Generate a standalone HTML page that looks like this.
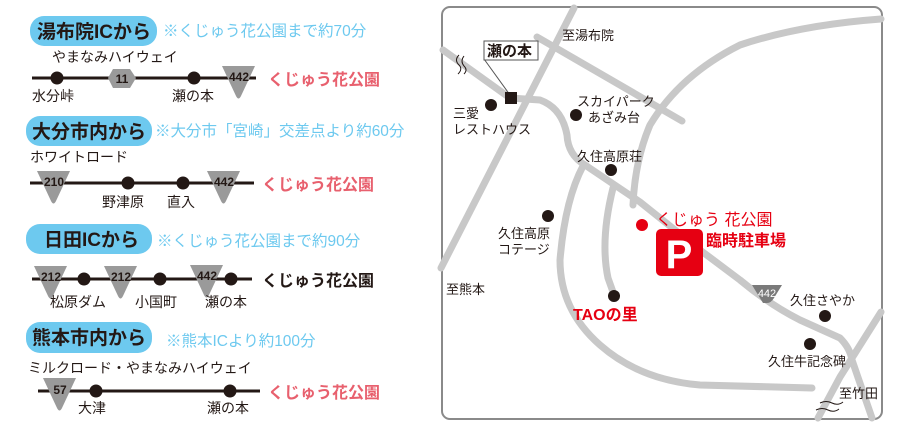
<!DOCTYPE html>
<html><head><meta charset="utf-8"><style>
body{margin:0;background:#fff;}
svg{display:block;font-family:"Liberation Sans","Noto Sans CJK JP",sans-serif;}
</style></head><body>
<svg width="900" height="432" viewBox="0 0 900 432" xmlns="http://www.w3.org/2000/svg">
<defs>
<g id="tri"><path d="M0,0 H33 L19,30 Q16.5,35 14,30 Z" fill="#9a9a9a"/></g>
</defs>
<g font-size="14" fill="#231815">
<rect x="30" y="16" width="127" height="30" rx="14" fill="#6dc9ef"/>
<text x="37" y="38" font-size="19" font-weight="bold">湯布院ICから</text>
<text x="163" y="36" font-size="15.5" fill="#6dc9ef">※くじゅう花公園まで約70分</text>
<text x="52" y="62">やまなみハイウェイ</text>
<line x1="32" y1="78" x2="256" y2="78" stroke="#231815" stroke-width="3"/>
<circle cx="57" cy="78" r="6.5"/><circle cx="194" cy="78" r="6.5"/>
<path d="M113,69 H130 L136,78 L130,88 H113 L108,78 Z" fill="#9a9a9a"/>
<text x="122" y="83" font-size="12" font-weight="bold" text-anchor="middle">11</text>
<use href="#tri" x="222" y="66"/>
<text x="239" y="81" font-size="12" font-weight="bold" text-anchor="middle">442</text>
<text x="32" y="101">水分峠</text><text x="172" y="101">瀬の本</text>
<text x="268" y="85" font-size="16" font-weight="bold" fill="#e8606e">くじゅう花公園</text>
<rect x="26" y="116" width="126" height="30" rx="14" fill="#6dc9ef"/>
<text x="32" y="138" font-size="19" font-weight="bold">大分市内から</text>
<text x="155" y="136" font-size="15.5" fill="#6dc9ef">※大分市「宮崎」交差点より約60分</text>
<text x="30" y="162">ホワイトロード</text>
<line x1="30" y1="183" x2="254" y2="183" stroke="#231815" stroke-width="3"/>
<use href="#tri" x="37" y="171"/>
<text x="54" y="186" font-size="12" font-weight="bold" text-anchor="middle">210</text>
<circle cx="128" cy="183" r="6.5"/><circle cx="183" cy="183" r="6.5"/>
<use href="#tri" x="207" y="171"/>
<text x="224" y="186" font-size="12" font-weight="bold" text-anchor="middle">442</text>
<text x="102" y="207">野津原</text><text x="167" y="207">直入</text>
<text x="262" y="190" font-size="16" font-weight="bold" fill="#e8606e">くじゅう花公園</text>
<rect x="26" y="224" width="126" height="30" rx="14" fill="#6dc9ef"/>
<text x="44" y="246" font-size="19" font-weight="bold">日田ICから</text>
<text x="157" y="246" font-size="15.5" fill="#6dc9ef">※くじゅう花公園まで約90分</text>
<line x1="32" y1="279" x2="252" y2="279" stroke="#231815" stroke-width="3"/>
<use href="#tri" x="34" y="266"/>
<text x="51" y="281" font-size="12" font-weight="bold" text-anchor="middle">212</text>
<circle cx="84" cy="279" r="6.5"/>
<use href="#tri" x="104" y="266"/>
<text x="121" y="281" font-size="12" font-weight="bold" text-anchor="middle">212</text>
<circle cx="160" cy="279" r="6.5"/>
<use href="#tri" x="190" y="265"/>
<text x="207" y="280" font-size="12" font-weight="bold" text-anchor="middle">442</text>
<circle cx="231" cy="279" r="6.5"/>
<text x="50" y="307">松原ダム</text><text x="135" y="307">小国町</text><text x="205" y="307">瀬の本</text>
<text x="262" y="286" font-size="16" font-weight="bold">くじゅう花公園</text>
<rect x="26" y="322" width="126" height="31" rx="14" fill="#6dc9ef"/>
<text x="32" y="344" font-size="19" font-weight="bold">熊本市内から</text>
<text x="166" y="346" font-size="15.5" fill="#6dc9ef">※熊本ICより約100分</text>
<text x="28" y="373">ミルクロード・やまなみハイウェイ</text>
<line x1="38" y1="391" x2="260" y2="391" stroke="#231815" stroke-width="3"/>
<use href="#tri" x="43" y="378"/>
<text x="60" y="394" font-size="12" font-weight="bold" text-anchor="middle">57</text>
<circle cx="96" cy="391" r="6.5"/><circle cx="230" cy="391" r="6.5"/>
<text x="78" y="413">大津</text><text x="207" y="413">瀬の本</text>
<text x="268" y="398" font-size="16" font-weight="bold" fill="#e8606e">くじゅう花公園</text>
</g>
<rect x="442" y="7" width="440" height="412" rx="8" fill="#fff" stroke="#8a8a8a" stroke-width="2"/>
<g fill="none" stroke="#c8c8c8" stroke-width="7" stroke-linecap="round" stroke-linejoin="round">
<path d="M574,8 L441,268"/>
<path d="M443,50 L510,98 L540,100 Q562,108 567,135 Q568,155 585,165 L640,202 L700,250 L740,280 Q770,305 800,320 L840,338 Q850,348 852,360 L872,418"/>
<path d="M537,37 L682,121"/>
<path d="M881,19 Q800,25 740,45 Q680,75 650,125 Q635,160 633,205"/>
<path d="M583,166 Q565,200 560,260 Q560,310 600,345 Q640,380 700,385 L812,388"/>
<path d="M613,188 Q600,240 608,278 L613,292"/>
<path d="M881,312 L840,377 L818,418"/>
</g>
<g fill="none" stroke="#231815" stroke-width="1">
<path d="M459,55 q-5,5 0,10 q4,4 -1,9"/><path d="M464,56 q-4,5 0,10 q4,4 0,8"/>
<path d="M820,403 q6,-3 12,0 q6,3 11,-1"/><path d="M816,410 q6,-3 12,0 q6,3 11,-1"/>
<line x1="484" y1="59" x2="510" y2="95" stroke="#555"/>
</g>
<rect x="484" y="41" width="54" height="19" fill="#fff" stroke="#555" stroke-width="1"/>
<g font-size="13" fill="#231815">
<text x="487" y="56" font-size="15" font-weight="bold">瀬の本</text>
<rect x="505" y="92" width="12" height="12" fill="#231815"/>
<text x="562" y="40">至湯布院</text>
<circle cx="491" cy="105" r="6"/>
<text x="453" y="118">三愛</text><text x="453" y="134">レストハウス</text>
<circle cx="576" cy="115" r="6"/>
<text x="577" y="106">スカイパーク</text><text x="588" y="122">あざみ台</text>
<text x="577" y="161">久住高原荘</text>
<circle cx="611" cy="170" r="6"/>
<circle cx="548" cy="216" r="6"/>
<text x="498" y="238">久住高原</text><text x="498" y="254">コテージ</text>
<text x="446" y="294">至熊本</text>
<circle cx="614" cy="296" r="6"/>
<text x="573" y="320" font-size="16" font-weight="bold" fill="#e60012">TAOの里</text>
<circle cx="642" cy="225" r="6" fill="#e60012"/>
<text x="656" y="225" font-size="16" fill="#e60012">くじゅう 花公園</text>
<text x="706" y="246" font-size="16" font-weight="bold" fill="#e60012">臨時駐車場</text>
<rect x="656" y="229" width="47" height="47" rx="5" fill="#e60012"/>
<text x="679" y="268" font-size="40" font-weight="bold" fill="#fff" text-anchor="middle">P</text>
<path d="M752,285 H782 L774,298 Q771,303 767,303 H763 Z" fill="#7a7a7a"/>
<text x="767" y="297" font-size="11" fill="#fff" text-anchor="middle">442</text>
<text x="790" y="305">久住さやか</text>
<circle cx="825" cy="316" r="6"/>
<circle cx="810" cy="344" r="6"/>
<text x="768" y="366">久住牛記念碑</text>
<text x="839" y="398">至竹田</text>
</g>
</svg>
</body></html>
